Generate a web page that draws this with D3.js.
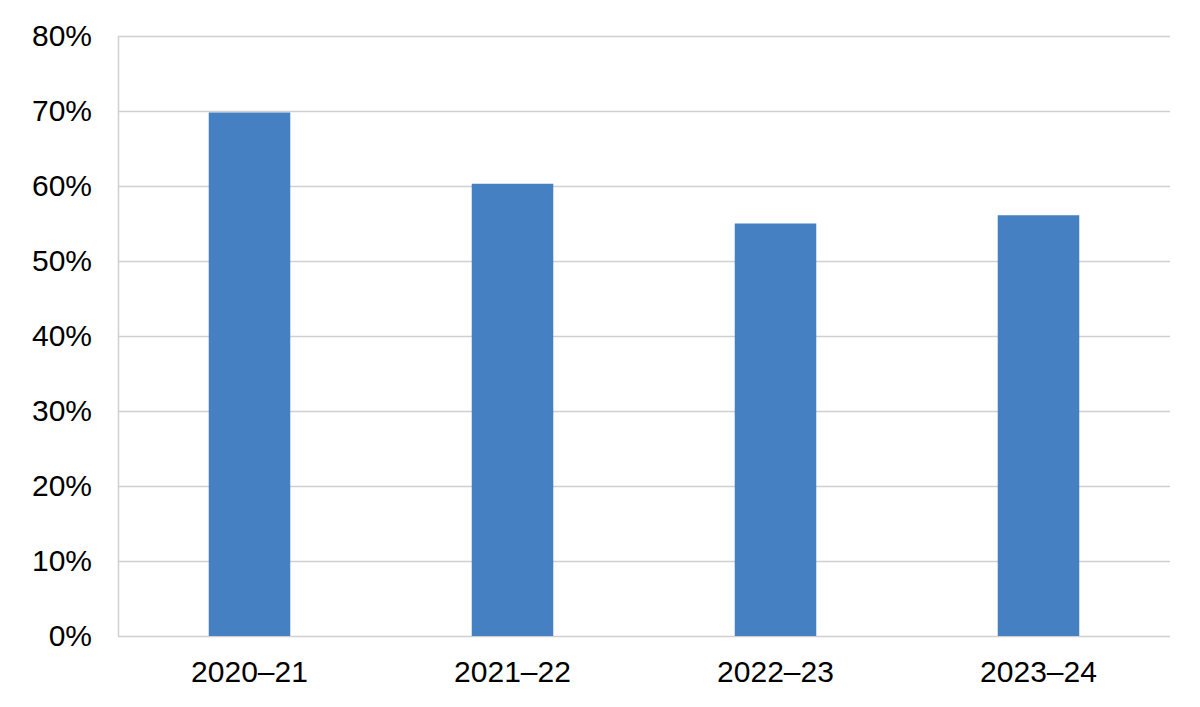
<!DOCTYPE html>
<html>
<head>
  <meta charset='utf-8'>
  <script src='https://d3js.org/d3.v7.min.js'></script>
  <style>
    body { margin: 0; background: #fff; }
    text { font-family: 'Liberation Sans', Arial, sans-serif; }
  </style>
</head>
<body>
<script>
  'use strict';
  // chart data
  var years = ['2020\u201321', '2021\u201322', '2022\u201323', '2023\u201324'];
  var shares = [0.698, 0.603, 0.550, 0.561];
  var yTicks = [0, 0.1, 0.2, 0.3, 0.4, 0.5, 0.6, 0.7, 0.8];

  var width = 1200, height = 707;
  var margin = {top: 36, right: 30, bottom: 71, left: 118};

  var svg = d3.select('body').append('svg')
    .attr('width', width)
    .attr('height', height);

  var x = d3.scaleBand()
    .domain(years)
    .range([margin.left, width - margin.right])
    .paddingInner(0.69)
    .paddingOuter(0.345);

  var y = d3.scaleLinear()
    .domain([0, 0.8])
    .range([height - margin.bottom, margin.top]);

  // gridlines
  svg.append('g')
    .selectAll('line')
    .data(yTicks)
    .enter()
    .append('line')
    .attr('x1', margin.left)
    .attr('x2', width - margin.right)
    .attr('y1', function(d) { return Math.round(y(d)) + 0.5; })
    .attr('y2', function(d) { return Math.round(y(d)) + 0.5; })
    .attr('stroke', '#d0d0d0')
    .attr('stroke-width', 1.5);

  // left axis line
  svg.append('line')
    .attr('x1', margin.left + 0.5)
    .attr('x2', margin.left + 0.5)
    .attr('y1', y(0.8))
    .attr('y2', y(0))
    .attr('stroke', '#d0d0d0')
    .attr('stroke-width', 1.5);

  // bars
  svg.append('g')
    .selectAll('rect')
    .data(shares)
    .enter()
    .append('rect')
    .attr('x', function(d, i) { return x(years[i]); })
    .attr('y', function(d) { return y(d); })
    .attr('width', x.bandwidth())
    .attr('height', function(d) { return y(0) - y(d); })
    .attr('fill', '#4480c2');

  // y axis labels
  var yAxis = d3.axisLeft(y)
    .tickValues(yTicks)
    .tickFormat(d3.format('.0%'))
    .tickSize(0)
    .tickPadding(26);
  svg.append('g')
    .attr('transform', 'translate(' + margin.left + ',0)')
    .call(yAxis)
    .call(function(g) { g.select('.domain').remove(); })
    .selectAll('text')
    .style('font-size', '30px')
    .attr('fill', '#000');

  // x axis labels
  var xAxis = d3.axisBottom(x)
    .tickSize(0)
    .tickPadding(25);
  svg.append('g')
    .attr('transform', 'translate(0,' + y(0) + ')')
    .call(xAxis)
    .call(function(g) { g.select('.domain').remove(); })
    .selectAll('text')
    .style('font-size', '30px')
    .attr('fill', '#000');
</script>
</body>
</html>
